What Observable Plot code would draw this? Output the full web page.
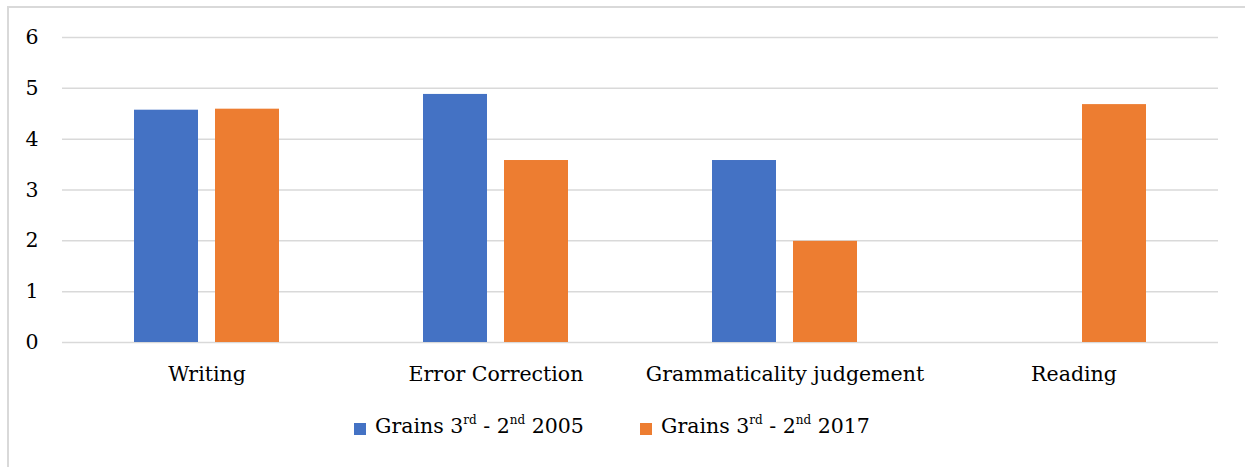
<!DOCTYPE html>
<html>
<head>
<meta charset="utf-8">
<script src="https://cdn.jsdelivr.net/npm/d3@7"></script>
<script src="https://cdn.jsdelivr.net/npm/@observablehq/plot@0.6"></script>
<style>
  html, body { margin: 0; padding: 0; background: #fff; overflow: hidden; }
  #frame { position: absolute; left: 7px; top: 6px; width: 1260px; height: 480px; border: 2px solid #d9d9d9; box-sizing: border-box; }
  #chart { position: absolute; left: 0; top: 0; }
  .leg { position: absolute; top: 416px; font-family: "DejaVu Serif", serif; font-size: 20.5px; line-height: 21px; color: #000; white-space: nowrap; }
  .leg sup { font-size: 12px; vertical-align: 0; position: relative; top: -9px; }
  .sw { position: absolute; width: 12px; height: 12px; top: 423px; }
</style>
</head>
<body>
<div id="frame"></div>
<div id="chart"></div>
<div id="legend"></div>
<script>
const categories = ["Writing", "Error Correction", "Grammaticality judgement", "Reading"];
const series = ["Grains 3rd - 2nd 2005", "Grains 3rd - 2nd 2017"];
const values2005 = [4.57, 4.88, 3.58, null];
const values2017 = [4.59, 3.58, 1.99, 4.68];
const colors = ["#4472c4", "#ed7d31"];
const yTicks = [0, 1, 2, 3, 4, 5, 6];
const legendHtml = ["Grains 3<sup>rd</sup> - 2<sup>nd</sup> 2005", "Grains 3<sup>rd</sup> - 2<sup>nd</sup> 2017"];

const data = [];
categories.forEach((c, i) => {
  [values2005, values2017].forEach((vals, j) => {
    if (vals[i] != null) data.push({category: c, series: series[j], value: vals[i]});
  });
});

const chart = Plot.plot({
  width: 1245,
  height: 390,
  marginTop: 37,
  marginBottom: 48,
  marginLeft: 61,
  marginRight: 26,
  style: {fontFamily: "DejaVu Serif", fontSize: "20.5px", color: "#000", background: "transparent", overflow: "visible"},
  fx: {domain: categories, padding: 0, label: null, tickSize: 0, tickPadding: 24, axis: "bottom"},
  x: {domain: series, paddingInner: 0.207, paddingOuter: 0.869, axis: null},
  y: {domain: [0, 6], ticks: yTicks, tickFormat: d3.format("d"), tickSize: 0, tickPadding: 24, label: null},
  color: {domain: series, range: colors},
  marks: [
    Plot.gridY(yTicks, {stroke: "#d9d9d9", strokeOpacity: 1, strokeWidth: 1.5}),
    Plot.barY(data, {fx: "category", x: "series", y: "value", fill: "series"})
  ]
});
document.getElementById("chart").appendChild(chart);

const legend = document.getElementById("legend");
const swLeft = [354, 640];
series.forEach((s, i) => {
  const sw = document.createElement("div");
  sw.className = "sw";
  sw.style.left = swLeft[i] + "px";
  sw.style.background = colors[i];
  legend.appendChild(sw);
  const t = document.createElement("div");
  t.className = "leg";
  t.style.left = (swLeft[i] + 21) + "px";
  t.innerHTML = legendHtml[i];
  legend.appendChild(t);
});
</script>
</body>
</html>
